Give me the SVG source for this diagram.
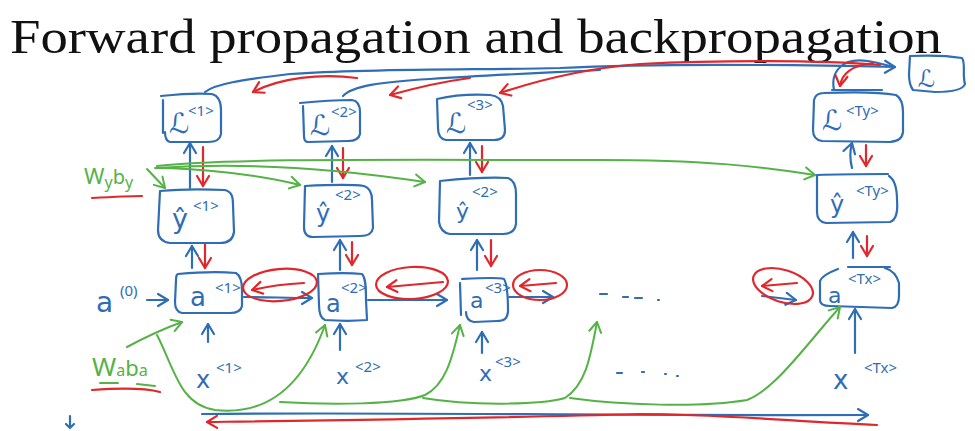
<svg xmlns="http://www.w3.org/2000/svg" width="975" height="431" viewBox="0 0 975 431">
<defs>
<style>
.b{fill:none;stroke:#2f6db5;stroke-width:2.2;stroke-linecap:round;stroke-linejoin:round}
.r{fill:none;stroke:#e0282c;stroke-width:2.2;stroke-linecap:round;stroke-linejoin:round}
.g{fill:none;stroke:#55b246;stroke-width:2;stroke-linecap:round;stroke-linejoin:round}
.t{font-family:"DejaVu Sans","Noto Sans",sans-serif;fill:#2f6db5}
.s{font-family:"Noto Sans","DejaVu Sans",sans-serif;fill:#2f6db5;font-size:15px}
.tg{font-family:"Noto Sans","DejaVu Sans",sans-serif;fill:#55b246}
.title{font-family:"Liberation Serif",serif;font-size:48px;fill:#111}
</style>
<marker id="ab" markerUnits="userSpaceOnUse" viewBox="-12 -10 14 20" markerWidth="14" markerHeight="20" refX="0" refY="0" orient="auto"><path d="M-10,-6 L0,0 L-10,6" fill="none" stroke="#2f6db5" stroke-width="2.2" stroke-linecap="round" stroke-linejoin="round"/></marker>
<marker id="ar" markerUnits="userSpaceOnUse" viewBox="-12 -10 14 20" markerWidth="14" markerHeight="20" refX="0" refY="0" orient="auto"><path d="M-10,-6 L0,0 L-10,6" fill="none" stroke="#e0282c" stroke-width="2.2" stroke-linecap="round" stroke-linejoin="round"/></marker>
<marker id="ag" markerUnits="userSpaceOnUse" viewBox="-12 -10 14 20" markerWidth="14" markerHeight="20" refX="0" refY="0" orient="auto"><path d="M-10,-6 L0,0 L-10,6" fill="none" stroke="#55b246" stroke-width="2" stroke-linecap="round" stroke-linejoin="round"/></marker>
</defs>
<rect width="975" height="431" fill="#fff"/>

<text class="title" x="10" y="53" textLength="932" lengthAdjust="spacingAndGlyphs">Forward propagation and backpropagation</text>

<!-- loss boxes -->
<g id="L1">
<path class="b" d="M161,96 C180,94 200,93 212,94 C219,96 221,102 221,110 L221,134 C220,140 216,142 208,142 L170,142 C166,141 165,137 165,132"/>
<path class="b" d="M163,100 L163,133"/>
<text class="t" x="169" y="133" font-size="28">ℒ</text>
<text class="s" x="188" y="116">&lt;1&gt;</text>
</g>
<g id="L2">
<path class="b" d="M300,103 C320,101 340,100 352,100 C358,101 360,106 360,112 L360,134 C359,139 355,141 348,141 L308,142 C305,142 304,139 304,136 L303,106"/>
<text class="t" x="310" y="135" font-size="28">ℒ</text>
<text class="s" x="331" y="117">&lt;2&gt;</text>
</g>
<g id="L3">
<path class="b" d="M437,99 C450,96 470,94 490,95 C499,96 502,100 503,106 L505,130 C505,137 501,140 494,140 L446,140 C440,139 438,135 438,128 Z"/>
<text class="t" x="446" y="133" font-size="28">ℒ</text>
<text class="s" x="467" y="110">&lt;3&gt;</text>
</g>
<g id="LTy">
<path class="b" d="M832,90 L882,90 M824,93 C850,92 880,92 896,95 C901,98 903,104 903,112 L903,132 C902,139 898,141 890,142 L822,141 C815,140 813,136 813,130 L814,100 C815,95 818,93 824,93"/>
<text class="t" x="822" y="130" font-size="28">ℒ</text>
<text class="s" x="846" y="116">&lt;Ty&gt;</text>
</g>
<g id="Lsum">
<path class="b" d="M910,56 C930,55 950,56 962,58 C966,64 962,74 965,84 C963,90 950,92 935,92 L913,90 C910,86 909,80 909,74 Z"/>
<text class="t" x="918" y="87" font-size="24">ℒ</text>
</g>

<!-- prediction boxes -->
<g id="Y1">
<path class="b" d="M160,191 C180,189 205,189 225,190 C232,192 233,197 233,205 L234,232 C233,240 228,243 220,243 L170,243 C162,242 158,238 158,230 Z"/>
<text class="t" x="172" y="228" font-size="27">ŷ</text>
<text class="s" x="193" y="211">&lt;1&gt;</text>
</g>
<g id="Y2">
<path class="b" d="M305,186 C325,185 350,184 364,186 C370,188 372,193 372,200 L373,228 C372,234 368,236 360,236 L313,237 C307,237 304,233 304,227 Z"/>
<text class="t" x="316" y="222" font-size="24">ŷ</text>
<text class="s" x="335" y="200">&lt;2&gt;</text>
</g>
<g id="Y3">
<path class="b" d="M440,181 C460,179 490,177 508,178 C514,180 516,186 516,194 L516,224 C515,231 511,234 503,234 L450,234 C443,233 440,229 439,222 Z"/>
<text class="t" x="456" y="219" font-size="22">ŷ</text>
<text class="s" x="472" y="197">&lt;2&gt;</text>
</g>
<g id="YTy">
<path class="b" d="M817,175 C840,174 865,174 888,174 M889,176 C895,180 897,190 897,200 C898,212 896,220 890,222 L826,223 C819,222 817,218 817,212 L817,176"/>
<text class="t" x="830" y="213" font-size="24">ŷ</text>
<text class="s" x="856" y="196">&lt;Ty&gt;</text>
</g>

<!-- activation boxes -->
<g id="A0">
<text class="t" x="96" y="312" font-size="28">a</text>
<text class="s" x="120" y="296">(0)</text>
</g>
<g id="A1">
<path class="b" d="M178,274 C200,272 225,272 236,273 C241,276 242,282 242,290 L242,306 C241,311 237,313 230,313 L182,313 C177,312 175,308 175,302 L176,280 C176,276 177,274 178,274"/>
<text class="t" x="190" y="306" font-size="26">a</text>
<text class="s" x="215" y="293">&lt;1&gt;</text>
</g>
<g id="A2">
<path class="b" d="M318,274 C335,273 352,273 362,274 C366,278 366,290 366,300 L367,320 C355,321 340,321 325,320 C320,318 319,312 319,305 L318,274"/>
<text class="t" x="326" y="312" font-size="24">a</text>
<text class="s" x="341" y="293">&lt;2&gt;</text>
</g>
<g id="A3">
<path class="b" d="M462,279 C480,278 497,277 504,279 C508,285 508,300 508,312 C507,319 504,321 497,321 L474,322 C468,321 466,317 466,312 M460,283 L461,315"/>
<text class="t" x="470" y="308" font-size="22">a</text>
<text class="s" x="485" y="293">&lt;3&gt;</text>
</g>
<g id="ATx">
<path class="b" d="M848,267 L890,267 M838,269 C830,272 822,276 820,281 L820,300 C820,304 823,306 830,306 L892,308 C897,307 899,303 899,296 L899,283 C897,276 892,270 885,268"/>
<text class="t" x="828" y="303" font-size="22">a</text>
<text class="s" x="848" y="284">&lt;Tx&gt;</text>
</g>

<!-- inputs -->
<g id="X1">
<text class="t" x="196" y="388" font-size="24">x</text>
<text class="s" x="216" y="373">&lt;1&gt;</text>
</g>
<g id="X2">
<text class="t" x="336" y="384" font-size="22">x</text>
<text class="s" x="355" y="372">&lt;2&gt;</text>
</g>
<g id="X3">
<text class="t" x="479" y="381" font-size="22">x</text>
<text class="s" x="495" y="367">&lt;3&gt;</text>
</g>
<g id="XTx">
<text class="t" x="833" y="389" font-size="26">x</text>
<text class="s" x="864" y="373">&lt;Tx&gt;</text>
</g>

<!-- shared parameters -->
<g id="Wy">
<text class="tg" x="84" y="184" font-size="22">W<tspan font-size="16" dy="4">y</tspan><tspan font-size="20" dy="-4">b</tspan><tspan font-size="16" dy="4">y</tspan></text>
<path class="r" d="M92,198 C110,197 128,196 142,196"/>
</g>
<g id="Wa">
<text class="tg" x="92" y="376" font-size="26">W<tspan font-size="16">a</tspan><tspan font-size="22">b</tspan><tspan font-size="16">a</tspan></text>
<path class="g" d="M100,383 L118,383 M137,384 L155,386"/>
<path class="r" d="M92,390 C120,388 145,388 160,392"/>
</g>

<!-- ellipsis marks and stray pen mark -->
<g id="dots">
<path class="b" d="M600,294 L607,294 M623,297 L628,297 M635,298 L642,298 M658,300 L659,300 M617,373 L622,373 M642,372 L644,372 M665,374 L666,374 M677,376 L678,376"/>
<path class="b" d="M70,416 L70,428 M66,424 L70,428 L74,424"/>
</g>

<g id="connectors">
<!-- forward: losses summed into total -->
<path class="b" d="M205,92 C215,84 240,80 290,74 C380,68 480,70 560,68 C640,64 760,64 895,67" marker-end="url(#ab)"/>
<path class="b" d="M343,96 C352,86 380,82 430,79 C490,75 540,73 600,70"/>
<path class="b" d="M834,90 C832,80 834,68 848,62 C860,58 875,62 890,66"/>
<!-- backward: total back to each loss -->
<path class="r" d="M880,65 C820,60 720,60 640,64 C590,68 545,78 500,93" marker-end="url(#ar)"/>
<path class="r" d="M470,78 C440,82 415,88 390,95" marker-end="url(#ar)"/>
<path class="r" d="M357,78 C320,73 280,78 253,92" marker-end="url(#ar)"/>
<path class="r" d="M873,63 C855,65 842,72 840,86" marker-end="url(#ar)"/>

<!-- prediction to loss -->
<path class="b" d="M190,188 L190,143" marker-end="url(#ab)"/>
<path class="r" d="M203,147 L203,186" marker-end="url(#ar)"/>
<path class="b" d="M332,182 L332,146" marker-end="url(#ab)"/>
<path class="r" d="M343,148 L343,178" marker-end="url(#ar)"/>
<path class="b" d="M470,175 L470,143" marker-end="url(#ab)"/>
<path class="r" d="M482,146 L482,172" marker-end="url(#ar)"/>
<path class="b" d="M852,168 C850,160 850,150 852,143" marker-end="url(#ab)"/>
<path class="r" d="M866,145 L866,166" marker-end="url(#ar)"/>

<!-- activation to prediction -->
<path class="b" d="M192,268 L192,246" marker-end="url(#ab)"/>
<path class="r" d="M205,244 L205,268" marker-end="url(#ar)"/>
<path class="b" d="M340,270 L340,240" marker-end="url(#ab)"/>
<path class="r" d="M352,242 L352,265" marker-end="url(#ar)"/>
<path class="b" d="M477,270 L477,240" marker-end="url(#ab)"/>
<path class="r" d="M491,240 L491,266" marker-end="url(#ar)"/>
<path class="b" d="M853,258 L853,232" marker-end="url(#ab)"/>
<path class="r" d="M867,236 L867,256" marker-end="url(#ar)"/>

<!-- input to activation -->
<path class="b" d="M208,342 L208,324" marker-end="url(#ab)"/>
<path class="b" d="M340,350 L340,324" marker-end="url(#ab)"/>
<path class="b" d="M482,353 L482,332" marker-end="url(#ab)"/>
<path class="b" d="M855,353 L855,309" marker-end="url(#ab)"/>

<!-- activation chain and its reverse -->
<path class="b" d="M147,300 L168,300" marker-end="url(#ab)"/>
<path class="b" d="M244,297 C265,297 290,298 312,298" marker-end="url(#ab)"/>
<ellipse class="r" cx="280" cy="285" rx="37" ry="16" transform="rotate(-5 280 285)"/>
<path class="r" d="M304,283 C285,284 265,287 252,290" marker-end="url(#ar)"/>
<path class="b" d="M368,300 L447,300" marker-end="url(#ab)"/>
<ellipse class="r" cx="412" cy="283" rx="36" ry="16" transform="rotate(-3 412 283)"/>
<path class="r" d="M443,282 L387,287" marker-end="url(#ar)"/>
<path class="b" d="M509,297 L553,297" marker-end="url(#ab)"/>
<ellipse class="r" cx="540" cy="285" rx="27" ry="15"/>
<path class="r" d="M556,283 L520,286" marker-end="url(#ar)"/>
<path class="b" d="M762,296 L796,300" marker-end="url(#ab)"/>
<ellipse class="r" cx="783" cy="286" rx="31" ry="16" transform="rotate(18 783 286)"/>
<path class="r" d="M797,283 L762,286" marker-end="url(#ar)"/>

<!-- output parameters -->
<path class="g" d="M147,169 L165,188" marker-end="url(#ag)"/>
<path class="g" d="M155,168 C200,168 260,175 300,185" marker-end="url(#ag)"/>
<path class="g" d="M157,168 C230,163 320,166 425,182" marker-end="url(#ag)"/>
<path class="g" d="M157,166 C220,158 400,160 600,160 C700,160 760,166 815,175" marker-end="url(#ag)"/>

<!-- recurrent parameters -->
<path class="g" d="M127,347 C140,340 160,330 182,322" marker-end="url(#ag)"/>
<path class="g" d="M157,335 C175,370 180,405 215,410 C260,415 300,395 325,325" marker-end="url(#ag)"/>
<path class="g" d="M280,402 C330,405 400,405 425,395 C445,385 452,360 460,325" marker-end="url(#ag)"/>
<path class="g" d="M423,398 C470,406 540,405 565,398 C585,385 590,360 597,322" marker-end="url(#ag)"/>
<path class="g" d="M570,398 C620,405 700,408 747,400 C775,390 810,340 840,307" marker-end="url(#ag)"/>

<!-- time axis: forward and backward through time -->
<path class="b" d="M202,414 C400,412 600,416 868,415" marker-end="url(#ab)"/>
<path class="r" d="M877,425 C800,422 720,414 640,414 C500,418 350,420 207,422" marker-end="url(#ar)"/>
</g>
</svg>
